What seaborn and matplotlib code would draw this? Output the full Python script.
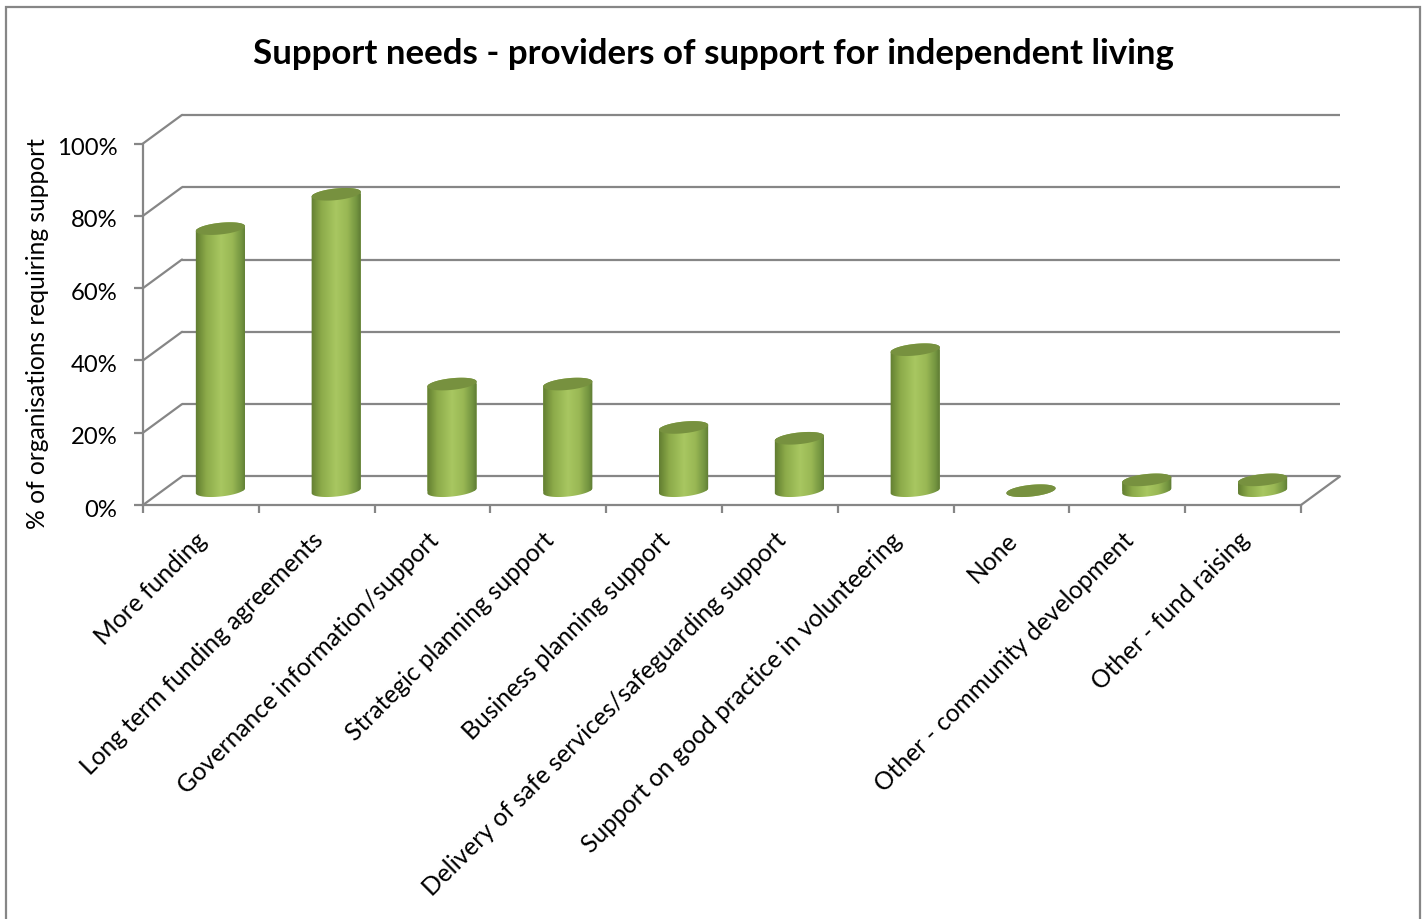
import numpy as np
import matplotlib
matplotlib.use("Agg")
import matplotlib.pyplot as plt
from matplotlib.lines import Line2D
from matplotlib.patches import Polygon, Rectangle
from matplotlib.path import Path
from matplotlib.transforms import Affine2D, IdentityTransform, ScaledTranslation
import seaborn as sns

categories = [
    "More funding",
    "Long term funding agreements",
    "Governance information/support",
    "Strategic planning support",
    "Business planning support",
    "Delivery of safe services/safeguarding support",
    "Support on good practice in volunteering",
    "None",
    "Other - community development",
    "Other - fund raising",
]
percent_requiring = [72.5, 82, 29.5, 29.5, 17.5, 14.5, 39, 0, 3, 3]
y_ticks = [0, 20, 40, 60, 80, 100]
y_tick_labels = ["0%", "20%", "40%", "60%", "80%", "100%"]
title = "Support needs - providers of support for independent living"
y_title = "% of organisations requiring support"

W, H = 1427, 920
GREY = "#868686"
FONT = "Lato"
LABEL_SIZE = 17.7
DEPTH = np.array([39.0, 28.6])      # pixel offset of the back wall from the front plane
ELL_A, ELL_B, ELL_TILT = 24.7, 5.8, np.radians(6)

sns.set_theme(style="white")
plt.rcParams["font.family"] = [FONT, "DejaVu Sans"]
plt.rcParams["text.color"] = "black"

fig = plt.figure(figsize=(W / 100, H / 100), dpi=100, facecolor="white")
ax = fig.add_axes([143 / W, (H - 506) / H, 1158 / W, 361.5 / H])

# Chart-area border; its lower edge runs off the canvas
fig.add_artist(Rectangle((6, -6), 1414, H - 8 + 6, transform=IdentityTransform(),
                         fill=False, edgecolor=GREY, linewidth=1.6))

sns.barplot(x=categories, y=percent_requiring, ax=ax, width=0.425,
            color="#93b153", saturation=1, zorder=3)
ax.set_xlim(-0.5, 9.5)
ax.set_ylim(0, 100)

# Back wall sits up and to the right of the front plane; columns stand half way in
back = ax.transData + Affine2D().translate(DEPTH[0], DEPTH[1])
mid = ax.transData + Affine2D().translate(DEPTH[0] / 2, DEPTH[1] / 2)

for v in y_ticks:
    ax.plot([-0.5, 9.5], [v, v], transform=back, color=GREY, lw=1.6,
            clip_on=False, zorder=1, solid_capstyle="butt")
    start = ax.transData.transform((-0.5, v))
    fig.add_artist(Line2D([start[0], start[0] + DEPTH[0]], [start[1], start[1] + DEPTH[1]],
                          transform=IdentityTransform(), color=GREY, lw=1.6))
end = ax.transData.transform((9.5, 0))
fig.add_artist(Line2D([end[0], end[0] + DEPTH[0]], [end[1], end[1] + DEPTH[1]],
                      transform=IdentityTransform(), color=GREY, lw=1.6))

# Horizontal shading that gives each column its round look
stops = [0.0, 0.06, 0.22, 0.5, 0.72, 0.9, 1.0]
reds = [0.36, 0.42, 0.55, 0.66, 0.60, 0.45, 0.35]
greens = [0.47, 0.53, 0.67, 0.78, 0.72, 0.58, 0.46]
blues = [0.19, 0.21, 0.29, 0.38, 0.33, 0.25, 0.19]
u = np.linspace(0, 1, 128)
shade = np.dstack([np.interp(u, stops, c) for c in (reds, greens, blues)])


def ellipse_points(cx, cy, t):
    x = cx + ELL_A * np.cos(t) * np.cos(ELL_TILT) - ELL_B * np.sin(t) * np.sin(ELL_TILT)
    y = cy + ELL_A * np.cos(t) * np.sin(ELL_TILT) + ELL_B * np.sin(t) * np.cos(ELL_TILT)
    return np.column_stack([x, y])


for bar in list(ax.patches):
    x0, w, h = bar.get_x(), bar.get_width(), bar.get_height()
    base = mid.transform((x0 + w / 2, 0))
    top = mid.transform((x0 + w / 2, h))
    lower = ellipse_points(base[0], base[1], np.linspace(np.pi, 2 * np.pi, 60))
    upper = ellipse_points(top[0], top[1], np.linspace(0, np.pi, 60))
    outline = Path(np.vstack([lower, upper, lower[:1]]))

    bar.set_transform(mid)
    bar.set_linewidth(0)
    bar.set_clip_path(outline, IdentityTransform())

    # Shaded body, clipped to the column outline
    im = ax.imshow(shade, extent=(x0 - 0.01, x0 + w + 0.01, -4, h + 4), aspect="auto",
                   transform=mid, zorder=3.1, interpolation="bilinear")
    im.set_clip_path(outline, IdentityTransform())

    # Flat cap of the column
    cap = ellipse_points(top[0], top[1], np.linspace(0, 2 * np.pi, 120))
    ax.add_patch(Polygon(cap, closed=True, transform=IdentityTransform(),
                         facecolor="#77913f", edgecolor="none", zorder=3.2, clip_on=False))

ax.set_xlim(-0.5, 9.5)
ax.set_ylim(0, 100)

sns.despine(ax=ax)
for side in ("left", "bottom"):
    ax.spines[side].set_color(GREY)
    ax.spines[side].set_linewidth(1.6)

ax.set_yticks(y_ticks, y_tick_labels)
ax.tick_params(axis="y", length=6.5, width=1.6, color=GREY, pad=12, labelsize=17.2,
               left=True, labelcolor="black")
for label in ax.get_yticklabels():
    label.set_transform(label.get_transform() + ScaledTranslation(0, -1.5 / 72, fig.dpi_scale_trans))
ax.set_xticks(np.arange(-0.5, 10, 1), minor=True)
ax.set_xticks(range(len(categories)), categories)
ax.tick_params(axis="x", which="minor", length=6, width=1.6, color=GREY, bottom=True)
ax.tick_params(axis="x", which="major", length=0, pad=16, labelsize=LABEL_SIZE, labelcolor="black")
shift = ScaledTranslation(-4.2 / 72, 0, fig.dpi_scale_trans)
for label in ax.get_xticklabels():
    label.set_rotation(45)
    label.set_ha("right")
    label.set_va("top")
    label.set_rotation_mode("anchor")
    label.set_transform(label.get_transform() + shift)

fig.text(38 / W, 1 - 334 / H, y_title, rotation=90, ha="center", va="center", fontsize=LABEL_SIZE)
fig.text(713 / W, 1 - 54 / H, title, ha="center", va="center", fontsize=25.1, fontweight="bold")

fig.savefig("out.png", dpi=100, facecolor="white")
